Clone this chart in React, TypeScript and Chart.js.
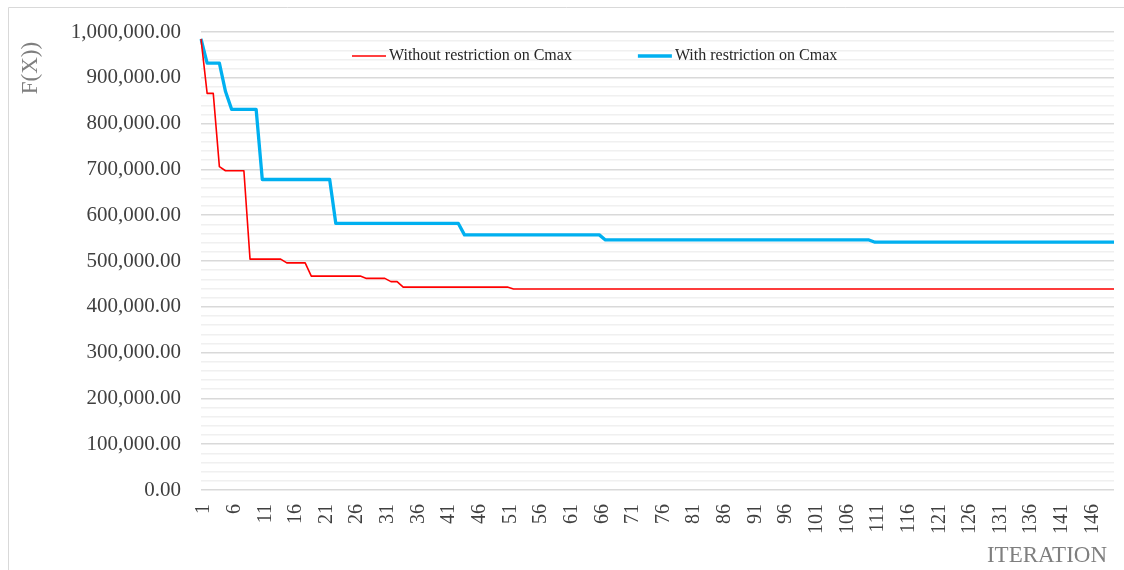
import React, { useEffect, useRef } from "react";
import { Chart, registerables } from "chart.js";

Chart.register(...registerables);

const iterations: string[] = [
  "1","2","3","4","5","6","7","8","9","10","11","12","13","14","15","16","17","18","19","20",
  "21","22","23","24","25","26","27","28","29","30","31","32","33","34","35","36","37","38","39","40",
  "41","42","43","44","45","46","47","48","49","50","51","52","53","54","55","56","57","58","59","60",
  "61","62","63","64","65","66","67","68","69","70","71","72","73","74","75","76","77","78","79","80",
  "81","82","83","84","85","86","87","88","89","90","91","92","93","94","95","96","97","98","99","100",
  "101","102","103","104","105","106","107","108","109","110","111","112","113","114","115","116","117","118","119","120",
  "121","122","123","124","125","126","127","128","129","130","131","132","133","134","135","136","137","138","139","140",
  "141","142","143","144","145","146","147","148","149","150",
];

const withoutRestriction: number[] = [
  985000, 866000, 866000, 706000, 697000, 697000, 697000, 697000, 504000, 504000,
  504000, 504000, 504000, 504000, 496000, 496000, 496000, 496000, 467000, 467000,
  467000, 467000, 467000, 467000, 467000, 467000, 467000, 462000, 462000, 462000,
  462000, 455000, 455000, 443000, 443000, 443000, 443000, 443000, 443000, 443000,
  443000, 443000, 443000, 443000, 443000, 443000, 443000, 443000, 443000, 443000,
  443000, 439000, 439000, 439000, 439000, 439000, 439000, 439000, 439000, 439000,
  439000, 439000, 439000, 439000, 439000, 439000, 439000, 439000, 439000, 439000,
  439000, 439000, 439000, 439000, 439000, 439000, 439000, 439000, 439000, 439000,
  439000, 439000, 439000, 439000, 439000, 439000, 439000, 439000, 439000, 439000,
  439000, 439000, 439000, 439000, 439000, 439000, 439000, 439000, 439000, 439000,
  439000, 439000, 439000, 439000, 439000, 439000, 439000, 439000, 439000, 439000,
  439000, 439000, 439000, 439000, 439000, 439000, 439000, 439000, 439000, 439000,
  439000, 439000, 439000, 439000, 439000, 439000, 439000, 439000, 439000, 439000,
  439000, 439000, 439000, 439000, 439000, 439000, 439000, 439000, 439000, 439000,
  439000, 439000, 439000, 439000, 439000, 439000, 439000, 439000, 439000, 439000,
];

const withRestriction: number[] = [
  985000, 932000, 932000, 932000, 870000, 831000, 831000, 831000, 831000, 831000,
  678000, 678000, 678000, 678000, 678000, 678000, 678000, 678000, 678000, 678000,
  678000, 678000, 582000, 582000, 582000, 582000, 582000, 582000, 582000, 582000,
  582000, 582000, 582000, 582000, 582000, 582000, 582000, 582000, 582000, 582000,
  582000, 582000, 582000, 557000, 557000, 557000, 557000, 557000, 557000, 557000,
  557000, 557000, 557000, 557000, 557000, 557000, 557000, 557000, 557000, 557000,
  557000, 557000, 557000, 557000, 557000, 557000, 546000, 546000, 546000, 546000,
  546000, 546000, 546000, 546000, 546000, 546000, 546000, 546000, 546000, 546000,
  546000, 546000, 546000, 546000, 546000, 546000, 546000, 546000, 546000, 546000,
  546000, 546000, 546000, 546000, 546000, 546000, 546000, 546000, 546000, 546000,
  546000, 546000, 546000, 546000, 546000, 546000, 546000, 546000, 546000, 546000,
  541000, 541000, 541000, 541000, 541000, 541000, 541000, 541000, 541000, 541000,
  541000, 541000, 541000, 541000, 541000, 541000, 541000, 541000, 541000, 541000,
  541000, 541000, 541000, 541000, 541000, 541000, 541000, 541000, 541000, 541000,
  541000, 541000, 541000, 541000, 541000, 541000, 541000, 541000, 541000, 541000,
];

const seriesNames: string[] = ["Without restriction on Cmax", "With restriction on Cmax"];
const yTitle = "F(X))";
const xTitle = "ITERATION";

const FONT = "'Liberation Serif', 'Times New Roman', serif";

const decorPlugin = {
  id: "decor",
  beforeDraw(chart: any) {
    const ctx = chart.ctx;
    ctx.save();
    ctx.strokeStyle = "#d9d9d9";
    ctx.lineWidth = 1;
    ctx.beginPath();
    ctx.moveTo(8.5, 600);
    ctx.lineTo(8.5, 7.5);
    ctx.lineTo(1200, 7.5);
    ctx.stroke();
    ctx.restore();
  },
  afterDraw(chart: any) {
    const ctx = chart.ctx;
    const area = chart.chartArea;
    ctx.save();
    // axis titles
    ctx.fillStyle = "#7f7f7f";
    ctx.font = `23px ${FONT}`;
    ctx.textAlign = "center";
    ctx.textBaseline = "middle";
    ctx.save();
    ctx.translate(31, area.top + 36);
    ctx.rotate(-Math.PI / 2);
    ctx.fillText(yTitle, 0, 0);
    ctx.restore();
    ctx.fillText(xTitle, area.right - 67, area.bottom + 66);

    // legend
    ctx.font = `16px ${FONT}`;
    ctx.textAlign = "left";
    ctx.textBaseline = "middle";
    const ly = area.top + 24;
    let lx = area.left + 151;
    chart.data.datasets.forEach((ds: any) => {
      ctx.strokeStyle = ds.borderColor;
      ctx.lineWidth = ds.borderWidth;
      ctx.beginPath();
      ctx.moveTo(lx, ly);
      ctx.lineTo(lx + 34, ly);
      ctx.stroke();
      ctx.fillStyle = "#262626";
      ctx.fillText(ds.label, lx + 37, ly);
      const w = ctx.measureText(ds.label).width;
      lx = lx + 37 + w + 66;
    });
    ctx.restore();
  },
};

export default function App() {
  const ref = useRef<HTMLCanvasElement | null>(null);

  useEffect(() => {
    document.body.style.margin = "0";
    const canvas = ref.current;
    if (!canvas) return;
    const chart = new Chart(canvas, {
      type: "line",
      data: {
        labels: iterations,
        datasets: [
          {
            label: seriesNames[0],
            data: withoutRestriction,
            borderColor: "#ff0000",
            backgroundColor: "#ff0000",
            borderWidth: 1.6,
            pointRadius: 0,
            tension: 0,
            borderJoinStyle: "round",
          },
          {
            label: seriesNames[1],
            data: withRestriction,
            borderColor: "#00b0f0",
            backgroundColor: "#00b0f0",
            borderWidth: 3.3,
            pointRadius: 0,
            tension: 0,
            borderJoinStyle: "round",
          },
        ],
      },
      options: {
        responsive: false,
        animation: false,
        layout: { padding: { top: 32, right: 10, bottom: 0, left: 0 } },
        plugins: {
          legend: { display: false },
          tooltip: { enabled: false },
          title: { display: false },
        },
        scales: {
          x: {
            type: "category",
            offset: false,
            grid: { display: false, drawTicks: false },
            border: { display: false },
            ticks: {
              autoSkip: false,
              maxRotation: 90,
              minRotation: 90,
              padding: 14,
              labelOffset: 3,
              color: "#404040",
              font: { family: FONT, size: 20 },
              callback: (_v: any, i: number) => (i % 5 === 0 ? iterations[i] : ""),
            },
            afterFit: (scale: any) => {
              scale.height = 80;
              scale.paddingLeft = 0;
              scale.paddingRight = 0;
            },
          },
          y: {
            min: 0,
            max: 1000000,
            grid: {
              drawTicks: false,
              color: (c: any) =>
                c.tick && c.tick.value % 100000 === 0 ? "#d9d9d9" : "#f0f0f0",
              lineWidth: 1.5,
            },
            border: { display: false },
            ticks: {
              stepSize: 20000,
              autoSkip: false,
              padding: 20,
              color: "#404040",
              font: { family: FONT, size: 21 },
              callback: (v: any) =>
                Number(v) % 100000 === 0
                  ? Number(v).toLocaleString("en-US", {
                      minimumFractionDigits: 2,
                      maximumFractionDigits: 2,
                    })
                  : "",
            },
            afterFit: (scale: any) => {
              scale.width = 201;
              scale.paddingTop = 0;
              scale.paddingBottom = 0;
            },
          },
        },
      },
      plugins: [decorPlugin],
    } as any);
    return () => chart.destroy();
  }, []);

  return (
    <div style={{ position: "fixed", left: 0, top: 0, width: 1124, height: 570, background: "#fff" }}>
      <canvas ref={ref} width={1124} height={570} />
    </div>
  );
}
